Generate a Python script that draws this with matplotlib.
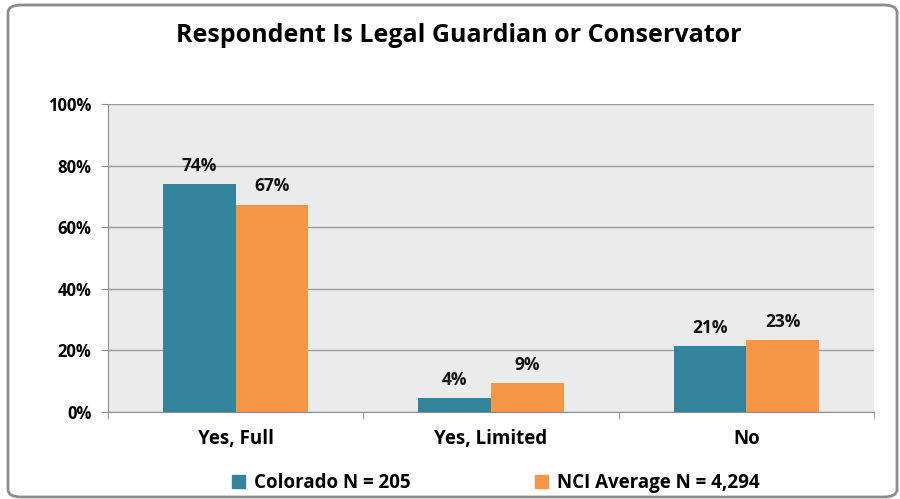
import matplotlib.pyplot as plt
import numpy as np
from matplotlib.patches import FancyBboxPatch, Patch

categories = ["Yes, Full", "Yes, Limited", "No"]
colorado = [73.9, 4.4, 21.4]
nci = [67.3, 9.3, 23.4]
series_names = ["Colorado N = 205", "NCI Average N = 4,294"]
yticks = [0, 20, 40, 60, 80, 100]

teal = "#31849b"
orange = "#f79646"
font = "Open Sans"

fig = plt.figure(figsize=(9, 4.99), dpi=100)

# rounded frame around the whole chart
frame = FancyBboxPatch((8 / 900, 2 / 499), 889 / 900, 492 / 499,
                       boxstyle="round,pad=0,rounding_size=0.015",
                       transform=fig.transFigure, facecolor="white",
                       edgecolor="#8c8c8c", linewidth=2, zorder=-1)
fig.patches.append(frame)

ax = fig.add_axes([108 / 900, 1 - 412 / 499, 766 / 900, 308 / 499])
ax.set_facecolor("#ebebeb")

x = np.arange(len(categories))
w = 0.284
b1 = ax.bar(x - w / 2, colorado, w, color=teal, zorder=3)
b2 = ax.bar(x + w / 2, nci, w, color=orange, zorder=3)

for bars, vals in ((b1, colorado), (b2, nci)):
    for rect, v in zip(bars, vals):
        ax.text(rect.get_x() + rect.get_width() / 2, v + 3, f"{round(v)}%",
                ha="center", va="bottom", fontsize=12.5, fontweight="bold",
                family=font, color="#111111")

ax.set_xlim(-0.5, len(categories) - 0.5)
ax.set_ylim(0, 100)
ax.set_yticks(yticks)
ax.set_yticklabels([f"{t}%" for t in yticks], fontsize=12, fontweight="bold",
                   family=font)
ax.yaxis.grid(True, color="#9a9a9a", linewidth=1, zorder=0)
ax.set_axisbelow(True)

ax.set_xticks(x)
ax.set_xticklabels(categories, fontsize=13.5, fontweight="bold", family=font)
ax.tick_params(axis="x", length=0, pad=12)
ax.set_xticks(np.arange(len(categories) + 1) - 0.5, minor=True)
ax.tick_params(axis="x", which="minor", length=5, color="#8c8c8c")
ax.tick_params(axis="y", length=5, color="#8c8c8c", pad=7)

for s in ("top", "right"):
    ax.spines[s].set_visible(False)
for s in ("left", "bottom"):
    ax.spines[s].set_color("#8c8c8c")

fig.text(459 / 900, 1 - 35 / 499, "Respondent Is Legal Guardian or Conservator",
         ha="center", va="center", fontsize=18, fontweight="bold", family=font)

handles = [Patch(color=teal), Patch(color=orange)]
fig.legend(handles, series_names, loc="center", bbox_to_anchor=(496 / 900, 1 - 483 / 499),
           ncol=2, frameon=False, columnspacing=6.6, handlelength=0.7, handleheight=0.7,
           handletextpad=0.5, prop={"family": font, "weight": "bold", "size": 13.5})

fig.savefig("out.png", dpi=100)
